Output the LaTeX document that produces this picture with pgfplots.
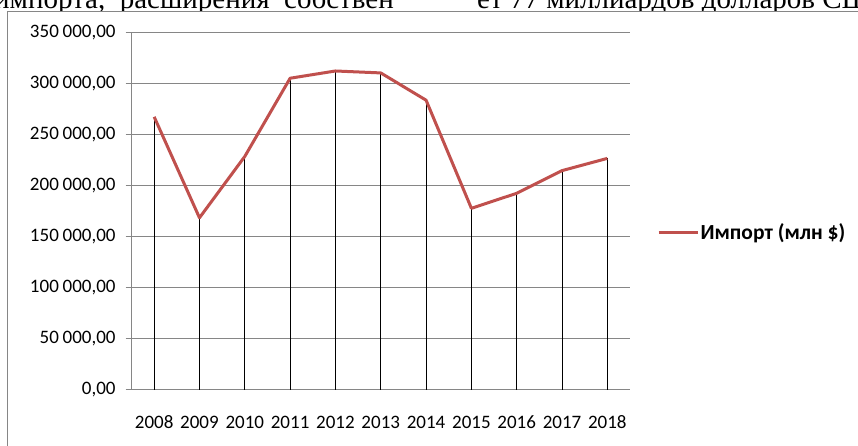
\documentclass[border=0pt]{standalone}
\usepackage{pgfplots}
\usepackage{pgfplotstable}
\pgfplotsset{compat=1.18}
\usepackage{fontspec}
\setmainfont{Carlito}
\newfontfamily\serif{Liberation Serif}
\definecolor{impred}{RGB}{192,80,77}
\definecolor{gridgray}{RGB}{134,134,134}
\pgfplotstableread{
x year value
0 2008 267200
1 2009 168300
2 2010 228400
3 2011 305000
4 2012 312100
5 2013 310200
6 2014 283500
7 2015 177600
8 2016 192300
9 2017 214500
10 2018 226500
}\imports
\begin{document}
\begin{tikzpicture}[x=1pt,y=1pt]
\useasboundingbox (0,0) rectangle (858,446);
\clip (0,0) rectangle (858,446);
\fill[white] (0,0) rectangle (858,446);
\node[anchor=base west, inner sep=0pt, font=\serif\fontsize{29}{32}\selectfont] at (-6,437) {импорта,\ \ расширения\ \ собствен};
\node[anchor=base west, inner sep=0pt, font=\serif\fontsize{29}{32}\selectfont] at (477,437) {ет 77 миллиардов долларов США};
\fill[white] (7.3,-10) rectangle (900,434.3);
\draw[gridgray, line width=1.5pt] (7.3,-10) -- (7.3,434.3) -- (900,434.3);
\begin{axis}[
  at={(131.5pt,56.4pt)}, anchor=south west,
  scale only axis, width=498.5pt, height=357.3pt,
  xmin=-0.5, xmax=10.5, ymin=0, ymax=350000,
  axis x line*=bottom, axis y line*=left,
  axis line style={gridgray, line width=1pt},
  ytick={0,50000,...,350000},
  ymajorgrids, grid style={gridgray, line width=1pt},
  xtick={0,...,10},
  xticklabels={2008,2009,2010,2011,2012,2013,2014,2015,2016,2017,2018},
  major x tick style={draw=none},
  tick align=outside, major tick length=6pt,
  major y tick style={gridgray, line width=1pt},
  yticklabel style={font=\fontsize{19}{21}\selectfont, xshift=-6.4pt},
  xticklabel style={font=\fontsize{19}{21}\selectfont, text height=12pt, text depth=0pt, inner sep=0pt, yshift=-20.5pt},
  scaled y ticks=false,
  /pgf/number format/.cd, fixed, fixed zerofill, precision=2, use comma, 1000 sep={\hspace{0.2em}}, assume math mode=true,
  /pgfplots/.cd,
  legend style={draw=none, fill=none, at={(axis description cs:1.054,0.4402)}, anchor=west, inner sep=0pt,
    font=\bfseries\fontsize{21.5}{24}\selectfont, nodes={inner sep=1.5pt}},
  legend image code/.code={\draw[#1] (0pt,0pt) -- (39pt,0pt);},
]
\addplot[ycomb, black, line width=0.8pt, forget plot] table[x=x, y=value] {\imports};
\addplot[impred, line width=3pt, line join=round] table[x=x, y=value] {\imports};
\addlegendentry{Импорт (млн \$)}
\end{axis}
\end{tikzpicture}
\end{document}
